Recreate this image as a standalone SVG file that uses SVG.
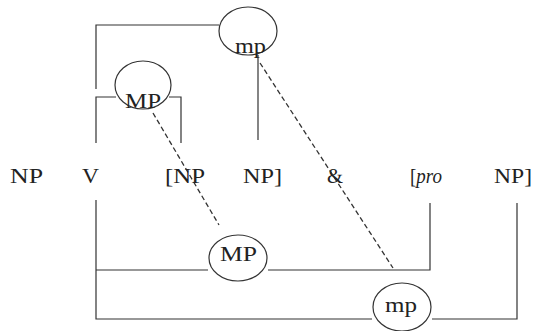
<svg xmlns="http://www.w3.org/2000/svg" width="534" height="331" viewBox="0 0 534 331">
<style>
.ln{fill:none;stroke:#333;stroke-width:1.2}
.ds{fill:none;stroke:#333;stroke-width:1.3;stroke-dasharray:5 3}
.el{fill:none;stroke:#333;stroke-width:1.2}
.t{font-family:"Liberation Serif","Times New Roman",serif;font-size:20px;fill:#222}
</style>
<rect width="534" height="331" fill="#fff"/>
<g id="connectors">
<polyline class="ln" points="96,89 96,25 219,25"/>
<line class="ln" x1="258" y1="55" x2="258" y2="140"/>
<polyline class="ln" points="96,143 96,97 116,97"/>
<polyline class="ln" points="169,97 181,97 181,143"/>
<polyline class="ln" points="96,200 96,319 372,319"/>
<line class="ln" x1="96" y1="270" x2="208" y2="270"/>
<polyline class="ln" points="268,270 430,270 430,203"/>
<polyline class="ln" points="432,319 517,319 517,203"/>
<line class="ds" x1="153" y1="113" x2="219" y2="225"/>
<line class="ds" x1="260" y1="63" x2="393" y2="268"/>
</g>
<g id="mp-top">
<ellipse class="el" cx="248" cy="31" rx="29" ry="24"/>
<text class="t" x="235" y="53" textLength="31" lengthAdjust="spacingAndGlyphs">mp</text>
</g>
<g id="MP-upper">
<ellipse class="el" cx="143" cy="85" rx="28" ry="24"/>
<text class="t" x="125" y="108" textLength="36" lengthAdjust="spacingAndGlyphs">MP</text>
</g>
<g id="MP-lower">
<ellipse class="el" cx="238" cy="258" rx="29" ry="23"/>
<text class="t" x="220" y="261" textLength="37" lengthAdjust="spacingAndGlyphs">MP</text>
</g>
<g id="mp-lower">
<ellipse class="el" cx="402" cy="307" rx="29" ry="24"/>
<text class="t" x="385" y="312" textLength="32" lengthAdjust="spacingAndGlyphs">mp</text>
</g>
<g id="words">
<text class="t" x="10" y="183" textLength="33" lengthAdjust="spacingAndGlyphs">NP</text>
<text class="t" x="82" y="183" textLength="17" lengthAdjust="spacingAndGlyphs">V</text>
<text class="t" x="165" y="183" textLength="40" lengthAdjust="spacingAndGlyphs">[NP</text>
<text class="t" x="243" y="183" textLength="39" lengthAdjust="spacingAndGlyphs">NP]</text>
<text class="t" x="327" y="183" textLength="16" lengthAdjust="spacingAndGlyphs">&amp;</text>
<text class="t" x="410" y="183" textLength="32" lengthAdjust="spacingAndGlyphs">[<tspan font-style="italic">pro</tspan></text>
<text class="t" x="494" y="183" textLength="38" lengthAdjust="spacingAndGlyphs">NP]</text>
</g>
</svg>
